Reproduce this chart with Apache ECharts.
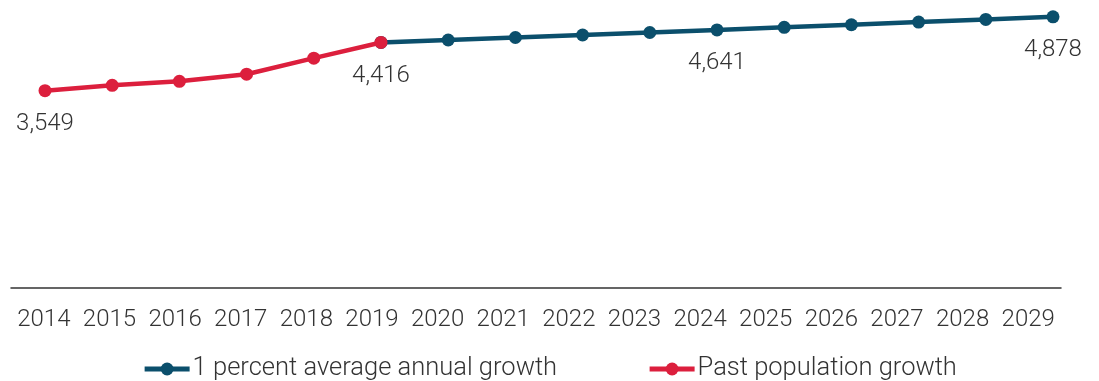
<!DOCTYPE html>
<html>
<head>
<meta charset="utf-8">
<script src="https://cdn.jsdelivr.net/npm/echarts@6/dist/echarts.min.js"></script>
<style>
  html, body { margin: 0; padding: 0; background: #ffffff; }
  #chart { width: 1099px; height: 381px; }
</style>
</head>
<body>
<div id="chart"></div>
<script>
// Population, thousands
const years = ['2014', '2015', '2016', '2017', '2018', '2019', '2020', '2021',
               '2022', '2023', '2024', '2025', '2026', '2027', '2028', '2029'];
const pastGrowth = [3549, 3646, 3718, 3845, 4134, 4416,
                    null, null, null, null, null, null, null, null, null, null];
const projectedGrowth = [null, null, null, null, null, 4416, 4460, 4505,
                         4550, 4595, 4641, 4688, 4735, 4782, 4830, 4878];
const pastLabelled = ['2014', '2019'];
const projectedLabelled = ['2024', '2029'];

const seriesNames = ['1 percent average annual growth', 'Past population growth'];
const BLUE = '#0B4F6C';
const RED = '#DC1F3D';
const FONT = 'Roboto';
const TEXT = '#333333';

function withLabels(values, labelled) {
  return values.map((v, i) => {
    if (v === null) return null;
    if (labelled.includes(years[i])) {
      return { value: v, label: { show: true } };
    }
    return v;
  });
}

const labelStyle = {
  show: false,
  position: 'bottom',
  distance: 15,
  fontFamily: FONT,
  fontWeight: 300,
  fontSize: 24,
  color: TEXT,
  formatter: p => Number(p.value).toLocaleString('en-US')
};

const chart = echarts.init(document.getElementById('chart'), null, { renderer: 'canvas' });

chart.setOption({
  animation: false,
  textStyle: { fontFamily: FONT },
  grid: [
    // visible category axis
    { left: 11, right: 38, top: 10, bottom: 93 },
    // plotting area for the lines
    { left: 45, right: 46, top: 10, bottom: 93 }
  ],
  xAxis: [
    {
      gridIndex: 0,
      type: 'category',
      data: years,
      boundaryGap: true,
      axisLine: { show: true, lineStyle: { color: TEXT, width: 1.5 } },
      axisTick: { show: false },
      axisLabel: { margin: 20, fontFamily: FONT, fontWeight: 300, fontSize: 24, color: TEXT, interval: 0 }
    },
    {
      gridIndex: 1,
      type: 'category',
      data: years,
      boundaryGap: false,
      show: false
    }
  ],
  yAxis: [
    { gridIndex: 0, type: 'value', min: 0, max: 5000, show: false },
    { gridIndex: 1, type: 'value', min: 0, max: 5000, show: false }
  ],
  legend: {
    top: 351,
    left: 'center',
    itemWidth: 45,
    itemHeight: 16,
    itemGap: 90,
    data: seriesNames,
    lineStyle: { width: 5 },
    textStyle: { fontFamily: FONT, fontWeight: 300, fontSize: 25.5, color: TEXT, padding: [0, 0, 0, -2] }
  },
  series: [
    {
      name: seriesNames[0],
      type: 'line',
      xAxisIndex: 1,
      yAxisIndex: 1,
      data: withLabels(projectedGrowth, projectedLabelled),
      symbol: 'circle',
      symbolSize: 13,
      showAllSymbol: true,
      lineStyle: { color: BLUE, width: 4.5 },
      itemStyle: { color: BLUE },
      label: labelStyle,
      z: 2
    },
    {
      name: seriesNames[1],
      type: 'line',
      xAxisIndex: 1,
      yAxisIndex: 1,
      data: withLabels(pastGrowth, pastLabelled),
      symbol: 'circle',
      symbolSize: 13,
      showAllSymbol: true,
      lineStyle: { color: RED, width: 4.5 },
      itemStyle: { color: RED },
      label: labelStyle,
      z: 3
    }
  ]
});
</script>
</body>
</html>
